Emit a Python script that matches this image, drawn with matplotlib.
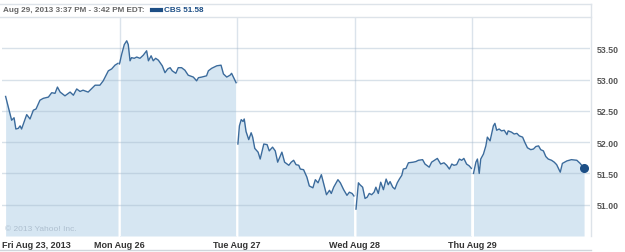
import matplotlib
matplotlib.use('Agg')
import matplotlib.pyplot as plt
from matplotlib.lines import Line2D

plt.rcParams['font.family'] = ['Liberation Sans', 'DejaVu Sans']

# day labels and intraday quotes (minutes after 9:30 open, price)
day_labels = ['Fri Aug 23, 2013', 'Mon Aug 26', 'Tue Aug 27', 'Wed Aug 28', 'Thu Aug 29']

fri_min = [12, 32, 40, 46, 54, 60, 65, 82, 93, 104, 113, 126, 137, 154, 165, 176, 184,
           193, 209, 226, 237, 248, 259, 269, 286, 309, 325, 336, 353, 364, 375, 385]
fri_px = [52.73, 52.35, 52.39, 52.21, 52.22, 52.26, 52.21, 52.44, 52.37, 52.51, 52.53,
          52.67, 52.70, 52.72, 52.79, 52.78, 52.88, 52.80, 52.74, 52.80, 52.75, 52.85,
          52.81, 52.83, 52.80, 52.91, 52.91, 52.98, 53.14, 53.17, 53.23, 53.26]

mon_min = [0, 7, 16, 24, 29, 35, 40, 49, 57, 68, 79, 90, 96, 105, 112, 120, 129, 142,
           151, 160, 168, 175, 187, 195, 206, 217, 228, 245, 256, 262, 273, 289, 295,
           306, 323, 337, 345, 356, 367, 372, 381, 387]
mon_px = [53.25, 53.40, 53.56, 53.62, 53.56, 53.30, 53.35, 53.34, 53.36, 53.34, 53.39,
          53.46, 53.30, 53.38, 53.30, 53.34, 53.31, 53.22, 53.11, 53.17, 53.19, 53.14,
          53.10, 53.19, 53.19, 53.15, 53.07, 53.04, 52.98, 53.03, 53.04, 53.06, 53.14,
          53.18, 53.22, 53.23, 53.09, 53.04, 53.07, 53.10, 53.01, 52.95]

tue_min = [3, 8, 14, 20, 24, 30, 39, 47, 52, 59, 70, 77, 89, 100, 107, 118, 127, 135,
           149, 158, 172, 180, 188, 196, 205, 210, 221, 232, 240, 252, 260, 269, 280,
           288, 297, 307, 313, 321, 335, 343, 354, 365, 373, 382, 388]
tue_px = [51.97, 52.26, 52.36, 52.33, 52.37, 52.17, 52.04, 52.15, 52.08, 51.90, 51.84,
          51.73, 51.97, 51.96, 51.86, 51.92, 51.86, 51.68, 51.84, 51.68, 51.63, 51.68,
          51.71, 51.64, 51.63, 51.57, 51.56, 51.44, 51.30, 51.27, 51.40, 51.35, 51.48,
          51.33, 51.16, 51.23, 51.18, 51.28, 51.40, 51.35, 51.24, 51.15, 51.20, 51.18,
          51.14]

wed_min = [5, 13, 18, 27, 35, 42, 49, 57, 65, 71, 79, 87, 96, 105, 112, 118, 127, 134,
           142, 149, 157, 162, 171, 179, 195, 204, 212, 226, 234, 248, 256, 275, 286,
           297, 306, 315, 323, 330, 339, 348, 356, 363, 372, 381, 388]
wed_px = [50.93, 51.35, 51.32, 51.28, 51.10, 51.12, 51.18, 51.16, 51.20, 51.28, 51.18,
          51.36, 51.24, 51.41, 51.32, 51.37, 51.28, 51.25, 51.35, 51.41, 51.47, 51.57,
          51.58, 51.67, 51.68, 51.69, 51.71, 51.72, 51.65, 51.60, 51.68, 51.74, 51.65,
          51.67, 51.63, 51.57, 51.65, 51.63, 51.64, 51.73, 51.71, 51.74, 51.65, 51.62,
          51.58]

thu_min = [5, 13, 18, 24, 29, 38, 46, 51, 60, 65, 71, 76, 82, 90, 98, 107, 116, 120,
           131, 140, 149, 157, 168, 175, 184, 195, 204, 212, 221, 228, 237, 245, 253,
           264, 273, 281, 293, 300, 315, 330, 348, 359, 372]
thu_px = [51.50, 51.68, 51.73, 51.50, 51.73, 51.81, 51.94, 52.08, 52.02, 52.13, 52.26,
          52.30, 52.19, 52.21, 52.18, 52.19, 52.12, 52.18, 52.16, 52.13, 52.14, 52.10,
          52.08, 52.00, 51.91, 51.88, 51.89, 51.93, 51.94, 51.88, 51.86, 51.77, 51.73,
          51.71, 51.68, 51.64, 51.52, 51.66, 51.70, 51.72, 51.71, 51.66, 51.58]

y_ticks = [51.0, 51.5, 52.0, 52.5, 53.0, 53.5]
last_price = 51.58
SESSION = 390  # minutes per trading day

days = [(fri_min, fri_px), (mon_min, mon_px), (tue_min, tue_px),
        (wed_min, wed_px), (thu_min, thu_px)]

line_c = '#3b6b9c'
fill_c = '#d6e6f2'
grid_c = '#dbe3eb'
ymin, ymax = 50.5, 54.0

fig = plt.figure(figsize=(6.25, 2.53), dpi=100)
ax = fig.add_axes([2 / 625, 16 / 253, 587.5 / 625, 219 / 253])
ax.set_xlim(0, 5 * SESSION)
ax.set_ylim(ymin, ymax)

for i, (mins, px) in enumerate(days):
    t = [i * SESSION + m for m in mins]
    ax.fill_between(t, px, ymin, color=fill_c, lw=0, zorder=1)
    ax.plot(t, px, color=line_c, lw=1.0, zorder=4)

# day separators: grey above the area, white gap inside it
for i in range(1, 5):
    top = max(days[i - 1][1][-1], days[i][1][0])
    ax.vlines(i * SESSION, top, ymax, color=grid_c, lw=1, zorder=0)
    ax.vlines(i * SESSION, ymin, top, color='white', lw=1.2, zorder=2)

for y in y_ticks:
    ax.axhline(y, color='#9fb4c8', alpha=0.4, lw=1, zorder=3)

# last quote dot
ax.plot(4 * SESSION + thu_min[-1], last_price, 'o', color='#1d4f86', ms=5.5, zorder=5)

for s in ax.spines.values():
    s.set_visible(False)
ax.yaxis.tick_right()
ax.set_yticks(y_ticks)
ax.set_yticklabels([f'{v:.2f}' for v in y_ticks])
ax.tick_params(axis='y', length=0, pad=5, labelsize=6.3, labelcolor='#555555')
ax.set_xticks([i * SESSION for i in range(5)])
ax.set_xticklabels(day_labels)
ax.tick_params(axis='x', length=0, pad=3, labelsize=6.5, labelcolor='#333333')
for lab in ax.get_yticklabels() + ax.get_xticklabels():
    lab.set_fontweight('bold')
ax.get_xticklabels()[0].set_horizontalalignment('left')

ax.text(0.005, 0.02, '\u00a9 2013 Yahoo! Inc.', transform=ax.transAxes,
        fontsize=6, color='#aebfcf', ha='left', va='bottom', zorder=6)

# frame lines of the widget
W, H = 625, 253
def fl(x0, y0, x1, y1, c='#dde3e9'):
    fig.add_artist(Line2D([x0 / W, x1 / W], [1 - y0 / H, 1 - y1 / H], color=c, lw=1))
fl(0, 4.5, 590.5, 4.5)
fl(0, 17.5, 590.5, 17.5)
fl(590.5, 4.5, 590.5, 237)
fl(0, 250.5, 590.5, 250.5, '#d0d6dc')

fig.text(3 / W, 1 - 11 / H, 'Aug 29, 2013 3:37 PM - 3:42 PM EDT:', fontsize=5.9,
         fontweight='bold', color='#666666', va='center', ha='left')
fig.add_artist(Line2D([152 / W, 161 / W], [1 - 11 / H] * 2, color='#1d4f86', lw=3))
fig.text(164 / W, 1 - 11 / H, 'CBS 51.58', fontsize=5.9, fontweight='bold',
         color='#1d4f86', va='center', ha='left')

fig.savefig('out.png', dpi=100)
